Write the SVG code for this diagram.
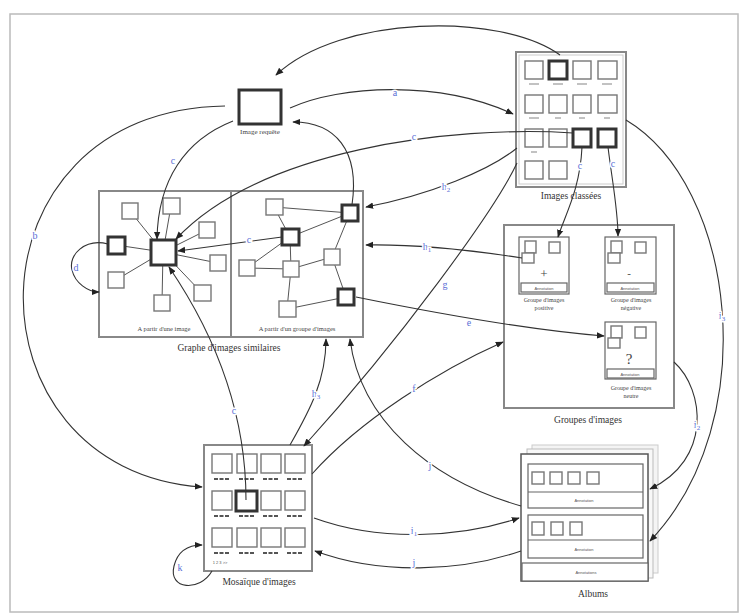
<svg xmlns="http://www.w3.org/2000/svg" width="742" height="615" viewBox="0 0 742 615">
<defs>
<marker id="ah" viewBox="0 0 10 10" refX="9" refY="5" markerWidth="8" markerHeight="8" markerUnits="userSpaceOnUse" orient="auto"><path d="M0,1 L10,5 L0,9 z" fill="#222"/></marker>
<style>
.cont{fill:#fff;stroke:#888;stroke-width:2}
.sq{fill:#fff;stroke:#777;stroke-width:1.4}
.tk{fill:#fff;stroke:#333;stroke-width:3}
.box{fill:#fff;stroke:#666;stroke-width:1.2}
.edge{stroke:#555;stroke-width:1;fill:none}
.conn path{fill:none;stroke:#333;stroke-width:1.1;marker-end:url(#ah)}
.lbl{font-family:"Liberation Serif",serif;font-size:9.5px;fill:#333;text-anchor:middle}
.sm{font-family:"Liberation Serif",serif;font-size:6.5px;fill:#444;text-anchor:middle}
.tiny{font-family:"Liberation Sans",sans-serif;font-size:4px;fill:#555;text-anchor:middle}
.bl{font-family:"Liberation Serif",serif;font-size:10px;fill:#5b6fd6;text-anchor:middle;paint-order:stroke;stroke:#fff;stroke-width:3}
.dash{stroke:#555;stroke-width:2;stroke-dasharray:4,1.5}
.mk{stroke:#999;stroke-width:1.2}
</style>
</defs>
<rect x="0" y="0" width="742" height="615" fill="#fff"/>
<rect x="10" y="14" width="728" height="598" fill="none" stroke="#bbb" stroke-width="1.5"/>

<g id="image-requete">
<rect class="tk" x="239" y="90" width="42" height="34"/>
<text class="sm" x="260" y="134" style="font-size:7px">Image requête</text>
</g>

<g id="images-classees">
<rect class="cont" x="516" y="52" width="110" height="135"/>
<rect x="519" y="55" width="104" height="129" fill="none" stroke="#ccc" stroke-width="1"/>
<rect class="sq" x="525" y="61" width="18" height="18"/>
<rect class="tk" x="549" y="61" width="18" height="18"/>
<rect class="sq" x="573" y="61" width="18" height="18"/>
<rect class="sq" x="598" y="61" width="19" height="18"/>
<rect class="sq" x="525" y="95" width="18" height="18"/>
<rect class="sq" x="549" y="95" width="18" height="18"/>
<rect class="sq" x="573" y="95" width="18" height="18"/>
<rect class="sq" x="598" y="95" width="19" height="18"/>
<rect class="sq" x="525" y="129" width="18" height="18"/>
<rect class="sq" x="549" y="129" width="18" height="18"/>
<rect class="tk" x="573" y="129" width="18" height="18"/>
<rect class="tk" x="598" y="129" width="18" height="18"/>
<rect class="sq" x="525" y="161" width="18" height="18"/>
<rect class="sq" x="549" y="161" width="18" height="18"/>
<line class="mk" x1="529" y1="84" x2="539" y2="84"/>
<line class="mk" x1="553" y1="84" x2="563" y2="84"/>
<line class="mk" x1="577" y1="84" x2="587" y2="84"/>
<line class="mk" x1="602" y1="84" x2="612" y2="84"/>
<line class="mk" x1="529" y1="118" x2="539" y2="118"/>
<line class="mk" x1="555" y1="118" x2="561" y2="118"/>
<line class="mk" x1="579" y1="118" x2="585" y2="118"/>
<line class="mk" x1="604" y1="118" x2="610" y2="118"/>
<line class="mk" x1="531" y1="152" x2="537" y2="152"/>
<text class="lbl" x="571" y="199">Images classées</text>
</g>

<g id="graphe">
<rect class="cont" x="99" y="191" width="264" height="146"/>
<line x1="231" y1="191" x2="231" y2="337" stroke="#888" stroke-width="2"/>
<g class="edge">
<line x1="163" y1="252" x2="116" y2="245"/>
<line x1="163" y1="252" x2="130" y2="211"/>
<line x1="163" y1="252" x2="171" y2="206"/>
<line x1="163" y1="252" x2="207" y2="230"/>
<line x1="163" y1="252" x2="218" y2="263"/>
<line x1="163" y1="252" x2="202" y2="293"/>
<line x1="163" y1="252" x2="162" y2="303"/>
<line x1="163" y1="252" x2="116" y2="280"/>
<line x1="274" y1="207" x2="350" y2="213"/>
<line x1="274" y1="207" x2="290" y2="237"/>
<line x1="290" y1="237" x2="350" y2="213"/>
<line x1="290" y1="237" x2="247" y2="268"/>
<line x1="290" y1="237" x2="291" y2="269"/>
<line x1="247" y1="268" x2="291" y2="269"/>
<line x1="291" y1="269" x2="332" y2="257"/>
<line x1="332" y1="257" x2="350" y2="213"/>
<line x1="332" y1="257" x2="346" y2="297"/>
<line x1="291" y1="269" x2="287" y2="309"/>
<line x1="287" y1="309" x2="346" y2="297"/>
</g>
<rect class="tk" x="151" y="240" width="25" height="25"/>
<rect class="tk" x="108" y="237" width="17" height="17"/>
<rect class="sq" x="122" y="203" width="16" height="16"/>
<rect class="sq" x="163" y="198" width="17" height="16"/>
<rect class="sq" x="199" y="222" width="16" height="16"/>
<rect class="sq" x="210" y="255" width="16" height="16"/>
<rect class="sq" x="194" y="285" width="17" height="16"/>
<rect class="sq" x="154" y="295" width="16" height="16"/>
<rect class="sq" x="108" y="272" width="16" height="16"/>
<rect class="sq" x="266" y="199" width="17" height="16"/>
<rect class="tk" x="342" y="205" width="16" height="16"/>
<rect class="tk" x="282" y="229" width="17" height="16"/>
<rect class="sq" x="239" y="260" width="16" height="16"/>
<rect class="sq" x="283" y="261" width="16" height="16"/>
<rect class="sq" x="324" y="249" width="16" height="16"/>
<rect class="tk" x="338" y="289" width="16" height="16"/>
<rect class="sq" x="279" y="301" width="17" height="16"/>
<text class="sm" x="164" y="331">A partir d'une image</text>
<text class="sm" x="297" y="331">A partir d'un groupe d'images</text>
<text class="lbl" x="229" y="351">Graphe d'images similaires</text>
</g>

<g id="groupes">
<rect class="cont" x="504" y="225" width="170" height="183"/>
<text class="lbl" x="588" y="423">Groupes d'images</text>
<g id="groupe-positive">
<rect class="box" x="519" y="237" width="50" height="57"/>
<rect class="sq" x="525" y="241" width="11" height="12"/>
<rect class="sq" x="549" y="242" width="11" height="11"/>
<rect class="sq" x="522" y="253" width="12" height="10"/>
<text x="544" y="278" style="font-family:'Liberation Serif',serif;font-size:13px;fill:#444;text-anchor:middle">+</text>
<rect class="box" x="521" y="283" width="46" height="9"/>
<text class="tiny" x="544" y="289.5">Annotation</text>
<text class="sm" x="544" y="302" style="font-size:6px">Groupe d'images</text>
<text class="sm" x="544" y="310" style="font-size:6px">positive</text>
</g>
<g id="groupe-negative">
<rect class="box" x="605" y="237" width="51" height="57"/>
<rect class="sq" x="611" y="241" width="11" height="12"/>
<rect class="sq" x="635" y="242" width="11" height="11"/>
<rect class="sq" x="608" y="253" width="12" height="10"/>
<text x="629" y="277" style="font-family:'Liberation Serif',serif;font-size:11px;fill:#444;text-anchor:middle">-</text>
<rect class="box" x="607" y="283" width="47" height="9"/>
<text class="tiny" x="630" y="289.5">Annotation</text>
<text class="sm" x="631" y="302" style="font-size:6px">Groupe d'images</text>
<text class="sm" x="631" y="310" style="font-size:6px">négative</text>
</g>
<g id="groupe-neutre">
<rect class="box" x="605" y="322" width="51" height="57"/>
<rect class="sq" x="611" y="326" width="11" height="12"/>
<rect class="sq" x="635" y="327" width="11" height="11"/>
<rect class="sq" x="608" y="338" width="12" height="10"/>
<text x="629" y="364" style="font-family:'Liberation Serif',serif;font-size:15px;fill:#444;text-anchor:middle">?</text>
<rect class="box" x="607" y="369" width="47" height="9"/>
<text class="tiny" x="630" y="375.5">Annotation</text>
<text class="sm" x="631" y="390" style="font-size:6px">Groupe d'images</text>
<text class="sm" x="631" y="398" style="font-size:6px">neutre</text>
</g>
</g>

<g id="mosaique">
<rect class="cont" x="204" y="445" width="108" height="126"/>
<rect class="sq" x="212" y="454" width="20" height="19"/>
<rect class="sq" x="237" y="454" width="20" height="19"/>
<rect class="sq" x="261" y="454" width="20" height="19"/>
<rect class="sq" x="285" y="454" width="20" height="19"/>
<rect class="sq" x="212" y="491" width="20" height="19"/>
<rect class="tk" x="236" y="491" width="21" height="20"/>
<rect class="sq" x="261" y="491" width="20" height="19"/>
<rect class="sq" x="285" y="491" width="20" height="19"/>
<rect class="sq" x="212" y="528" width="20" height="19"/>
<rect class="sq" x="237" y="528" width="20" height="19"/>
<rect class="sq" x="261" y="528" width="20" height="19"/>
<rect class="sq" x="285" y="528" width="20" height="19"/>
<line class="dash" x1="214" y1="479" x2="230" y2="479"/>
<line class="dash" x1="239" y1="479" x2="255" y2="479"/>
<line class="dash" x1="263" y1="479" x2="279" y2="479"/>
<line class="dash" x1="287" y1="479" x2="303" y2="479"/>
<line class="dash" x1="214" y1="516" x2="230" y2="516"/>
<line class="dash" x1="239" y1="516" x2="255" y2="516"/>
<line class="dash" x1="263" y1="516" x2="279" y2="516"/>
<line class="dash" x1="287" y1="516" x2="303" y2="516"/>
<line class="dash" x1="214" y1="553" x2="230" y2="553"/>
<line class="dash" x1="239" y1="553" x2="255" y2="553"/>
<line class="dash" x1="263" y1="553" x2="279" y2="553"/>
<line class="dash" x1="287" y1="553" x2="303" y2="553"/>
<text class="tiny" x="220" y="564">1 2 3 &gt;&gt;</text>
<text class="lbl" x="259" y="585">Mosaïque d'images</text>
</g>

<g id="albums">
<rect x="532" y="445" width="126" height="128" fill="#f4f4f4" stroke="#ccc" stroke-width="1"/>
<rect x="527" y="449" width="126" height="129" fill="#f8f8f8" stroke="#bbb" stroke-width="1"/>
<rect x="521" y="454" width="127" height="127" fill="#fff" stroke="#555" stroke-width="1.5"/>
<rect class="box" x="528" y="464" width="115" height="44"/>
<line x1="528" y1="492" x2="643" y2="492" stroke="#666" stroke-width="1.2"/>
<rect class="sq" x="532" y="472" width="12" height="12"/>
<rect class="sq" x="550" y="472" width="12" height="12"/>
<rect class="sq" x="568" y="472" width="12" height="12"/>
<rect class="sq" x="587" y="472" width="12" height="12"/>
<text class="tiny" x="584" y="502">Annotation</text>
<rect class="box" x="528" y="515" width="115" height="43"/>
<line x1="528" y1="540" x2="643" y2="540" stroke="#666" stroke-width="1.2"/>
<rect class="sq" x="532" y="522" width="12" height="13"/>
<rect class="sq" x="551" y="522" width="12" height="13"/>
<rect class="sq" x="570" y="522" width="12" height="13"/>
<text class="tiny" x="584" y="551">Annotation</text>
<rect class="box" x="522" y="563" width="126" height="18"/>
<text class="tiny" x="586" y="573.5">Annotations</text>
<text class="lbl" x="593" y="597">Albums</text>
</g>

<g id="connectors" class="conn">
<path d="M560,55 C500,12 340,15 276,75"/>
<path d="M290,108 C340,85 440,80 513,114"/>
<path d="M573,133 C450,125 260,150 176,239"/>
<path d="M517,148 C490,170 430,195 366,207"/>
<path d="M522,258 C470,250 420,244 366,245"/>
<path d="M356,297 C430,312 530,330 604,336"/>
<path d="M517,163 C495,210 400,340 304,446"/>
<path d="M312,474 C360,420 440,370 503,342"/>
<path d="M290,445 C310,410 326,380 326,339"/>
<path d="M521,506 C430,480 360,420 350,339"/>
<path d="M314,518 C380,542 460,538 519,518"/>
<path d="M521,551 C460,572 380,575 315,551"/>
<path d="M212,571 C200,592 168,590 174,566 C178,550 190,545 202,545"/>
<path d="M225,106 C-40,110 -40,470 202,487"/>
<path d="M233,121 C185,140 158,180 157,239"/>
<path d="M246,500 C246,400 205,320 169,267"/>
<path d="M352,205 C360,150 335,122 293,122"/>
<path d="M282,237 L178,251"/>
<path d="M108,244 C85,238 68,255 72,270 C75,283 88,292 99,292"/>
<path d="M582,147 C580,190 565,215 558,237"/>
<path d="M608,147 C612,180 618,210 618,236"/>
<path d="M674,362 C705,390 712,460 650,489"/>
<path d="M626,120 C735,185 765,420 650,541"/>
</g>

<g id="labels">
<text class="bl" x="395" y="96">a</text>
<text class="bl" x="414" y="140">c</text>
<text class="bl" x="446" y="190">h<tspan font-size="7" dy="2">2</tspan></text>
<text class="bl" x="173" y="164">c</text>
<text class="bl" x="35" y="239">b</text>
<text class="bl" x="76" y="271">d</text>
<text class="bl" x="249" y="243">c</text>
<text class="bl" x="580" y="169">c</text>
<text class="bl" x="613" y="167">c</text>
<text class="bl" x="427" y="250">h<tspan font-size="7" dy="2">1</tspan></text>
<text class="bl" x="469" y="326">e</text>
<text class="bl" x="445" y="288">g</text>
<text class="bl" x="414" y="392">f</text>
<text class="bl" x="316" y="397">h<tspan font-size="7" dy="2">3</tspan></text>
<text class="bl" x="234" y="414">c</text>
<text class="bl" x="430" y="469">j</text>
<text class="bl" x="414" y="534">i<tspan font-size="7" dy="2">1</tspan></text>
<text class="bl" x="414" y="566">j</text>
<text class="bl" x="180" y="571">k</text>
<text class="bl" x="697" y="428">i<tspan font-size="7" dy="2">2</tspan></text>
<text class="bl" x="722" y="319">i<tspan font-size="7" dy="2">3</tspan></text>
</g>
</svg>
